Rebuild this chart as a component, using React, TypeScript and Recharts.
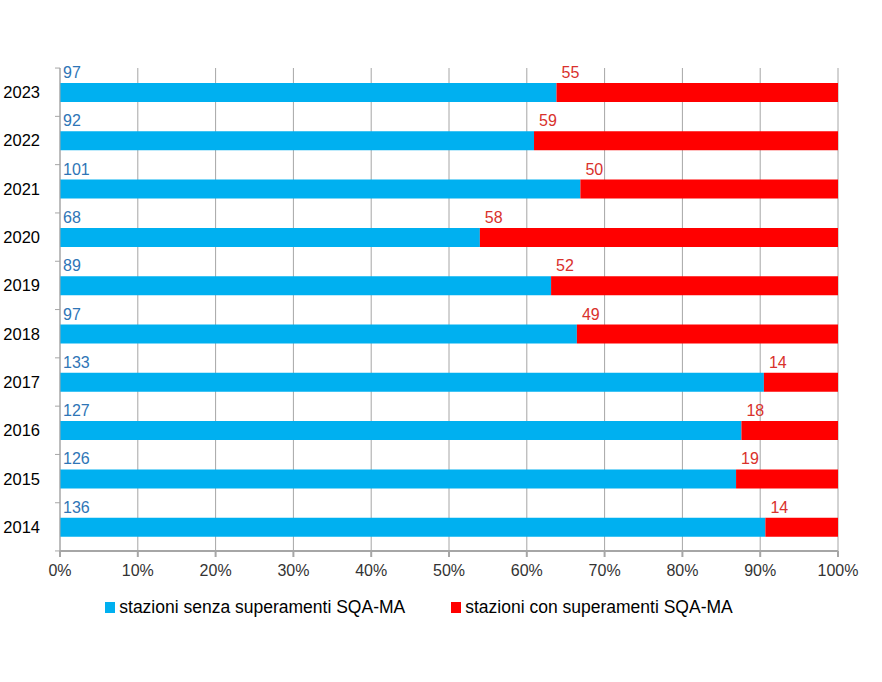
import React from 'react';
import { BarChart, Bar, XAxis, YAxis, CartesianGrid, Legend, LabelList } from 'recharts';

const YEARS = ['2014', '2015', '2016', '2017', '2018', '2019', '2020', '2021', '2022', '2023'];
const SENZA = [136, 126, 127, 133, 97, 89, 68, 101, 92, 97];
const CON = [14, 19, 18, 14, 49, 52, 58, 50, 59, 55];
const X_TICKS = [0, 0.1, 0.2, 0.3, 0.4, 0.5, 0.6, 0.7, 0.8, 0.9, 1];
const SERIES = [
  { key: 'senza', name: 'stazioni senza superamenti SQA-MA', color: '#00B0F0' },
  { key: 'con', name: 'stazioni con superamenti SQA-MA', color: '#FF0000' },
];

const FONT = '"Liberation Sans", Arial, sans-serif';

// 2023 on top
const data = YEARS.map((year, i) => ({ year, senza: SENZA[i], con: CON[i] })).reverse();

const blueLabel = (props: any) => {
  const { x, y, value } = props;
  return (
    <text x={x + 3} y={y - 5} fill="#2E75B6" fontSize={16} fontFamily={FONT}>
      {value}
    </text>
  );
};

const redLabel = (props: any) => {
  const { x, y, value } = props;
  return (
    <text x={x + 5} y={y - 5} fill="#D9312C" fontSize={16} fontFamily={FONT}>
      {value}
    </text>
  );
};

// year label plus the small tick mark at the top edge of each band
const yearTick = (props: any) => {
  const { x, y, payload, index, visibleTicksCount } = props;
  const band = 482 / (visibleTicksCount || YEARS.length);
  return (
    <g>
      <line x1={60} x2={55} y1={y - band / 2} y2={y - band / 2} stroke="#A6A6A6" />
      {index === (visibleTicksCount || YEARS.length) - 1 && (
        <line x1={60} x2={55} y1={y + band / 2} y2={y + band / 2} stroke="#A6A6A6" />
      )}
      <text x={x} y={y} dy={6} textAnchor="end" fill="#000" fontSize={16.5} fontFamily={FONT}>
        {payload.value}
      </text>
    </g>
  );
};

const legendContent = () => (
  <div style={{ display: 'flex', justifyContent: 'center', fontFamily: FONT, fontSize: 17.5, color: '#000' }}>
    {SERIES.map((s, i) => (
      <div key={s.key} style={{ display: 'flex', alignItems: 'center', marginLeft: i ? 46 : 0 }}>
        <span style={{ display: 'inline-block', width: 10, height: 11, background: s.color, marginRight: 4 }} />
        <span>{s.name}</span>
      </div>
    ))}
  </div>
);

export default function App() {
  return (
    <div style={{ position: 'absolute', left: 0, top: 0, width: 882, height: 682, background: '#fff' }}>
      <BarChart
        width={882}
        height={682}
        data={data}
        layout="vertical"
        stackOffset="expand"
        barSize={19}
        margin={{ top: 68, right: 44, bottom: 70, left: 0 }}
      >
        <CartesianGrid vertical horizontal={false} stroke="#A6A6A6" />
        <XAxis
          type="number"
          domain={[0, 1]}
          ticks={X_TICKS}
          tickFormatter={(v: number) => `${Math.round(v * 100)}%`}
          tick={{ fill: '#333', fontSize: 16, fontFamily: FONT }}
          stroke="#A6A6A6"
          strokeWidth={2}
          tickSize={6}
          tickMargin={8}
          height={40}
        />
        <YAxis
          type="category"
          dataKey="year"
          width={60}
          tick={yearTick}
          stroke="#A6A6A6"
          tickMargin={14}
          tickLine={false}
        />
        <Bar dataKey="senza" stackId="a" fill={SERIES[0].color} name={SERIES[0].name} isAnimationActive={false}>
          <LabelList dataKey="senza" content={blueLabel} />
        </Bar>
        <Bar dataKey="con" stackId="a" fill={SERIES[1].color} name={SERIES[1].name} isAnimationActive={false}>
          <LabelList dataKey="con" content={redLabel} />
        </Bar>
        <Legend
          verticalAlign="bottom"
          content={legendContent}
          wrapperStyle={{ bottom: 64 }}
        />
      </BarChart>
    </div>
  );
}
